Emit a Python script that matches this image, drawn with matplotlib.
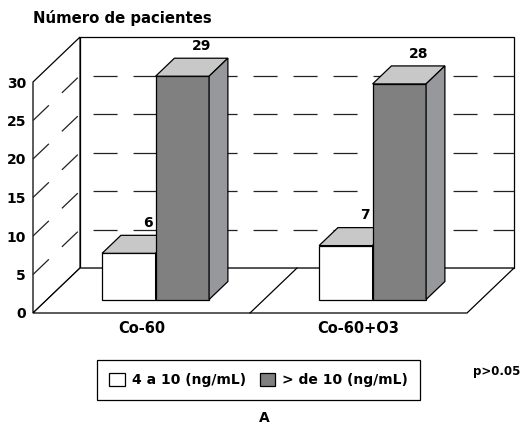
import matplotlib
matplotlib.use("Agg")
import matplotlib.pyplot as plt
from matplotlib.patches import Polygon, Patch

categories = ["Co-60", "Co-60+O3"]
series_labels = ["4 a 10 (ng/mL)", "> de 10 (ng/mL)"]
low_counts = [6, 7]
high_counts = [29, 28]
y_ticks = [0, 5, 10, 15, 20, 25, 30]

FRONT = ["white", "#808080"]
TOP = "#c8c8c8"
SIDE = ["#e4e4e4", "#97989c"]
EDGE = "black"
LW = 0.9

# pseudo-3D geometry (data units): full depth shift of the wall/floor
DX, DY = 0.2166, 5.84
Z0, Z1 = 0.3, 0.7          # bar front / back depth
BAR_W = 0.2465
YMAX = 30

plt.rcParams["font.family"] = ["DejaVu Sans"]
plt.rcParams["font.weight"] = "bold"
plt.rcParams["lines.scale_dashes"] = False


def proj(x, y, z):
    return x + z * DX, y + z * DY


fig = plt.figure(figsize=(5.25, 4.25), dpi=100)
ax = fig.add_axes([33 / 525, 112 / 425, 434 / 525, 231 / 425])
ax.set_xlim(0, len(categories))
ax.set_ylim(0, YMAX)
for s in ax.spines.values():
    s.set_visible(False)

n = len(categories)

# back wall
ax.add_patch(Polygon([proj(0, 0, 1), proj(n, 0, 1), proj(n, YMAX, 1), proj(0, YMAX, 1)],
                     closed=True, facecolor="white", edgecolor=EDGE, lw=LW, clip_on=False, zorder=1))
# left wall
ax.add_patch(Polygon([proj(0, 0, 0), proj(0, 0, 1), proj(0, YMAX, 1), proj(0, YMAX, 0)],
                     closed=True, facecolor="white", edgecolor=EDGE, lw=LW, clip_on=False, zorder=1))
# floor
ax.add_patch(Polygon([proj(0, 0, 0), proj(n, 0, 0), proj(n, 0, 1), proj(0, 0, 1)],
                     closed=True, facecolor="white", edgecolor=EDGE, lw=LW, clip_on=False, zorder=1))
for k in range(1, n):
    xs, ys = zip(proj(k, 0, 0), proj(k, 0, 1))
    ax.plot(xs, ys, color=EDGE, lw=LW, clip_on=False, zorder=2)

# gridlines: back wall + left wall diagonals
for v in y_ticks[1:-1]:
    bx, by = zip(proj(0, v, 1), proj(n, v, 1))
    ax.plot(bx, by, color="#222222", lw=LW, clip_on=False, zorder=2,
            linestyle=(19.4, (17.3, 11.5)))
    lx, ly = zip(proj(0, v, 0), proj(0, v, 1))
    ax.plot(lx, ly, color="#222222", lw=LW, clip_on=False, zorder=2,
            linestyle=(0, (15.8, 13.0)))

# bars
for i in range(n):
    center = i + 0.5
    for j, vals in enumerate([low_counts, high_counts]):
        h = vals[i]
        x0 = center + (j - 1) * BAR_W
        x1 = x0 + BAR_W
        zo = 3 + i * 2 + j
        ax.bar(x0 + Z0 * DX, h, BAR_W, bottom=Z0 * DY, align="edge",
               color=FRONT[j], edgecolor=EDGE, lw=LW, clip_on=False, zorder=zo)
        ax.add_patch(Polygon([proj(x0, h, Z0), proj(x1, h, Z0), proj(x1, h, Z1), proj(x0, h, Z1)],
                             closed=True, facecolor=TOP, edgecolor=EDGE, lw=LW,
                             clip_on=False, zorder=zo))
        ax.add_patch(Polygon([proj(x1, 0, Z0), proj(x1, 0, Z1), proj(x1, h, Z1), proj(x1, h, Z0)],
                             closed=True, facecolor=SIDE[j], edgecolor=EDGE, lw=LW,
                             clip_on=False, zorder=zo))
        lx, ly = proj((x0 + x1) / 2, h, Z1)
        ax.text(lx, ly + 0.7, str(h), ha="center", va="bottom", fontsize=10,
                fontweight="bold", zorder=10)

ax.set_yticks(y_ticks)
ax.set_yticklabels([str(t) for t in y_ticks], fontsize=10, fontweight="bold")
ax.tick_params(axis="y", length=0, pad=5)
ax.set_xticks([i + 0.5 for i in range(n)])
ax.set_xticklabels(categories, fontsize=10.5, fontweight="bold")
ax.tick_params(axis="x", length=0, pad=6)

fig.text(33 / 525, 1 - 18 / 425, "Número de pacientes", ha="left", va="center",
         fontsize=10.7, fontweight="bold")

handles = [Patch(facecolor=FRONT[k], edgecolor=EDGE, lw=LW, label=series_labels[k])
           for k in range(2)]
leg = fig.legend(handles=handles, ncol=2, loc="center",
                 bbox_to_anchor=(258.5 / 525, 1 - 380 / 425),
                 frameon=True, fancybox=False, edgecolor=EDGE, framealpha=1,
                 fontsize=10, handlelength=1.1, handleheight=1.1,
                 handletextpad=0.5, columnspacing=1.0, borderpad=0.9)
leg.get_frame().set_linewidth(LW)
for t in leg.get_texts():
    t.set_fontweight("bold")

fig.text(497 / 525, 1 - 372 / 425, "p>0.05", ha="center", va="center",
         fontsize=8.5, fontweight="bold")
fig.text(264 / 525, 1 - 418 / 425, "A", ha="center", va="center",
         fontsize=10, fontweight="bold")

fig.savefig("out.png", dpi=100, facecolor="white")
